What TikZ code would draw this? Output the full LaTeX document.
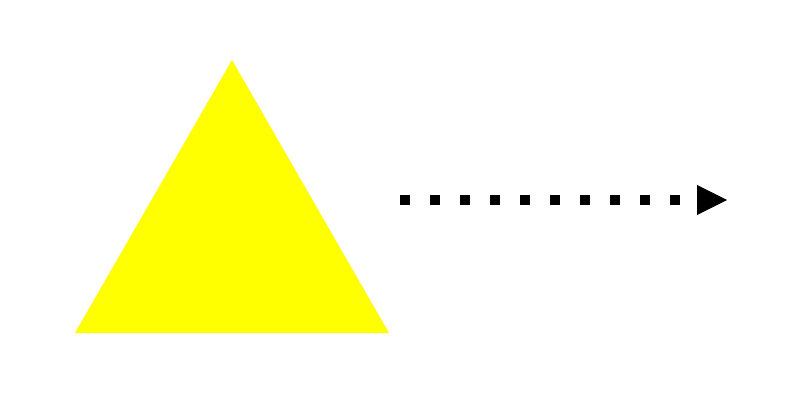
\documentclass[tikz,border=0pt]{standalone}
\usepackage{tikz}
\usetikzlibrary{arrows.meta}
\definecolor{pureyellow}{RGB}{255,255,0}
\tikzset{dotline/.style={line width=0.25cm,dash pattern=on 0.25cm off 0.5cm,
         -{Triangle[length=0.75cm,width=0.75cm,line width=0pt]}}}

\begin{document}
\begin{tikzpicture}[x=0.025cm,y=-0.025cm]
\useasboundingbox (0,0) rectangle (800,400);
\fill [pureyellow] (232,60) -- (389,333) -- (75,333) -- cycle;
\coordinate (start) at (400,200);
\coordinate (end) at (727,200);
\draw [dotline] (start) -- (end);
\end{tikzpicture}
\end{document}
